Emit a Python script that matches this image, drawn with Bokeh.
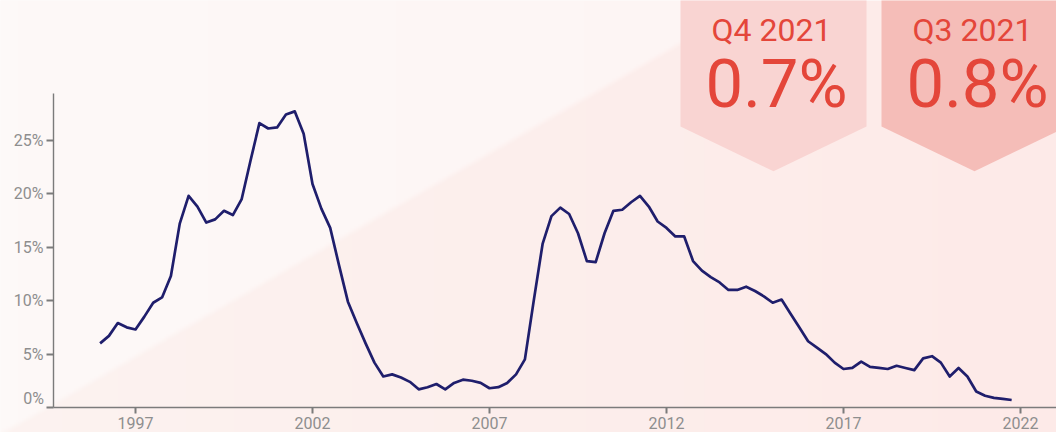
import numpy as np
from bokeh.plotting import figure
from bokeh.models import LinearAxis, FixedTicker, PrintfTickFormatter, Range1d
from bokeh.core.properties import value
from bokeh.embed import file_html
from bokeh.resources import INLINE

# ---- data: quarterly rate (%), 1996 Q1 .. 2021 Q4 ----
years = list(range(1996, 2022))
quarters = [f"Q{q} {y}" for y in years for q in (1, 2, 3, 4)]
rate = [
    6.0, 6.7, 7.9, 7.5, 7.3, 8.5, 9.8, 10.3,
    12.3, 17.2, 19.8, 18.8, 17.3, 17.6, 18.4, 18.0,
    19.5, 23.1, 26.6, 26.1, 26.2, 27.4, 27.7, 25.6,
    20.9, 18.6, 16.8, 13.3, 9.9, 7.9, 6.0, 4.2,
    2.9, 3.1, 2.8, 2.4, 1.7, 1.9, 2.2, 1.7,
    2.3, 2.6, 2.5, 2.3, 1.8, 1.9, 2.3, 3.1,
    4.5, 10.0, 15.3, 17.9, 18.7, 18.1, 16.3, 13.7,
    13.6, 16.3, 18.4, 18.5, 19.2, 19.8, 18.8, 17.4,
    16.8, 16.0, 16.0, 13.7, 12.8, 12.2, 11.7, 11.0,
    11.0, 11.3, 10.9, 10.4, 9.8, 10.1, 8.8, 7.5,
    6.2, 5.6, 5.0, 4.2, 3.6, 3.7, 4.3, 3.8,
    3.7, 3.6, 3.9, 3.7, 3.5, 4.6, 4.8, 4.2,
    2.9, 3.7, 2.9, 1.5, 1.1, 0.9, 0.8, 0.7,
]
x_time = [y + (q - 1) / 4 for y in years for q in (1, 2, 3, 4)]

year_ticks = [1997, 2002, 2007, 2012, 2017, 2022]
pct_ticks = [0, 5, 10, 15, 20, 25]

# ---- layout (pixel scale of the plot frame) ----
W, H = 1056, 432
PX_YR = 35.4          # pixels per year
PX_PCT = 10.69        # pixels per percentage point
X_LEFT = 1997 - 135 / PX_YR
ZERO_ROW = 407        # pixel row of 0 %

def dx(px):
    return X_LEFT + px / PX_YR

def dy(py):
    return (ZERO_ROW - py) / PX_PCT

x_start, x_end = dx(0), dx(W)
y_start, y_end = dy(H), dy(0)
AXIS_X = dx(53)

p = figure(width=W, height=H, x_range=Range1d(x_start, x_end),
           y_range=Range1d(y_start, y_end), x_axis_type=None, y_axis_type=None,
           output_backend="svg", toolbar_location=None, min_border=0,
           outline_line_color=None, background_fill_color="#fdf7f6",
           border_fill_color="#fdf7f6")

# ---- soft two-tone background with a diagonal split ----
nx, ny = W // 2, H // 2
cols = (np.arange(nx) + 0.5) * 2
rows = (np.arange(ny) + 0.5) * 2
PX, PY = np.meshgrid(cols, rows)
edge = 434 - 0.575 * PX
dist = (PY - edge) / np.sqrt(1 + 0.575 ** 2)
t = np.clip(dist / 6 + 0.5, 0, 1)[..., None]
u = (PX / W)[..., None]
light = np.array([253.4, 248.6, 247.6]) * (1 - u) + np.array([253.0, 243.0, 242.0]) * u
pink = np.array([251.5, 242.5, 240.0]) * (1 - u) + np.array([253.0, 233.5, 231.5]) * u
rgb = np.round(light * (1 - t) + pink * t)
img = np.zeros((ny, nx), dtype=np.uint32)
view = img.view(dtype=np.uint8).reshape((ny, nx, 4))
view[..., 0] = rgb[..., 0].astype(np.uint8)
view[..., 1] = rgb[..., 1].astype(np.uint8)
view[..., 2] = rgb[..., 2].astype(np.uint8)
view[..., 3] = 255
p.image_rgba(image=[img[::-1]], x=x_start, y=y_start,
             dw=x_end - x_start, dh=y_end - y_start)

# ---- the series ----
p.line(x_time, rate, line_color="#1f1e6c", line_width=2.7, line_join="round")

# ---- axes ----
axis_grey = "#7b7b7b"
label_grey = "#8e8e8e"

yaxis = LinearAxis(fixed_location=AXIS_X, bounds=(0, dy(93)),
                   ticker=FixedTicker(ticks=pct_ticks),
                   formatter=PrintfTickFormatter(format="%d%%"),
                   major_label_overrides={0: ""})
xaxis = LinearAxis(fixed_location=0, bounds=(AXIS_X, x_end),
                   ticker=FixedTicker(ticks=year_ticks),
                   formatter=PrintfTickFormatter(format="%d"))
for ax, standoff in ((yaxis, 3), (xaxis, 3)):
    ax.axis_line_color = axis_grey
    ax.axis_line_width = 1.4
    ax.major_tick_line_color = axis_grey
    ax.major_tick_line_width = 2
    ax.major_tick_out = 7 if ax is yaxis else 6
    ax.major_tick_in = 0
    ax.minor_tick_in = 0
    ax.minor_tick_out = 0
    ax.major_label_text_color = label_grey
    ax.major_label_text_font = "Roboto"
    ax.major_label_text_font_size = "16px"
    ax.major_label_standoff = standoff
p.add_layout(yaxis, "left")
p.add_layout(xaxis, "below")

# the 0 % label sits a little above its tick
p.text(x=[dx(43.5)], y=[dy(398)], text=[f"{pct_ticks[0]}%"],
       text_align="right", text_baseline="middle",
       text_font=value("Roboto"), text_font_size=value("16px"),
       text_color=label_grey)

# ---- latest-quarter badges ----
badge_fill = ["#f9d4d2", "#f5bdb8"]
badge_cx = [773, 974]
half_w, shoulder, tip = 93, 126, 170.7
bx, by = [], []
for cx in badge_cx:
    pts = [(cx - half_w, -10), (cx + half_w, -10), (cx + half_w, shoulder),
           (cx, tip), (cx - half_w, shoulder)]
    bx.append([dx(a) for a, _ in pts])
    by.append([dy(b) for _, b in pts])
p.patches(bx, by, fill_color=badge_fill, line_color=None)

badge_q = [quarters[-1], quarters[-2]]
badge_v = [f"{rate[-1]:.1f}%", f"{rate[-2]:.1f}%"]
red = "#e4463a"
p.text(x=[dx(c - 2) for c in badge_cx], y=[dy(10.5)] * 2, text=badge_q,
       text_align="center", text_baseline="top",
       text_font=value("Roboto"), text_font_size=value("32px"), text_color=red)
p.text(x=[dx(c + 3) for c in badge_cx], y=[dy(44.0)] * 2, text=badge_v,
       text_align="center", text_baseline="top",
       text_font=value("Roboto"), text_font_size=value("67px"), text_color=red)

open("out.html", "w").write(file_html(p, INLINE))
